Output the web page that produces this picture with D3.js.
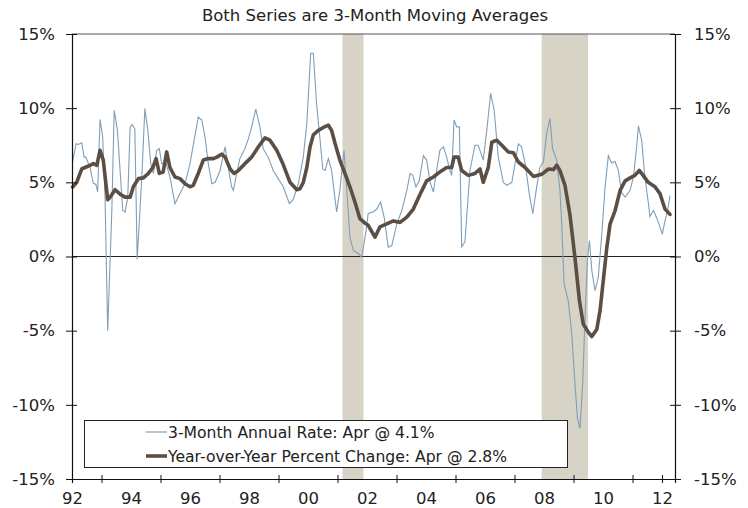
<!DOCTYPE html>
<html>
<head>
<meta charset="utf-8">
<script src="https://cdn.jsdelivr.net/npm/d3@7"></script>
<style>
  html, body { margin: 0; padding: 0; background: #fff; }
  svg { display: block; font-family: "DejaVu Sans", Verdana, sans-serif; }
</style>
</head>
<body>
<svg id="chart"></svg>
<script>
// 3-month annual rate (thin blue), decimal years
var rateYears = [1992.02,1992.14,1992.21,1992.33,1992.41,1992.47,1992.61,1992.72,1992.81,1992.87,1992.95,1993.04,1993.12,1993.21,1993.35,1993.43,1993.54,1993.63,1993.72,1993.80,1993.89,1993.97,1994.04,1994.13,1994.21,1994.36,1994.47,1994.57,1994.67,1994.76,1994.87,1994.96,1995.04,1995.19,1995.32,1995.49,1995.66,1995.83,1996.00,1996.14,1996.28,1996.40,1996.51,1996.62,1996.74,1996.85,1997.02,1997.19,1997.30,1997.41,1997.47,1997.56,1997.69,1997.86,1997.98,1998.09,1998.23,1998.37,1998.48,1998.65,1998.82,1998.99,1999.16,1999.37,1999.50,1999.67,1999.84,1999.96,2000.09,2000.18,2000.29,2000.41,2000.50,2000.58,2000.69,2000.80,2000.97,2001.08,2001.22,2001.31,2001.42,2001.54,2001.71,2001.82,2001.97,2002.04,2002.21,2002.33,2002.46,2002.58,2002.72,2002.84,2003.01,2003.18,2003.35,2003.46,2003.55,2003.66,2003.77,2003.91,2004.02,2004.14,2004.25,2004.36,2004.47,2004.59,2004.70,2004.81,2004.87,2004.95,2005.04,2005.13,2005.21,2005.32,2005.49,2005.66,2005.77,2005.94,2006.06,2006.19,2006.31,2006.45,2006.62,2006.74,2006.91,2007.13,2007.24,2007.36,2007.50,2007.62,2007.75,2007.86,2007.98,2008.09,2008.20,2008.29,2008.43,2008.54,2008.60,2008.68,2008.82,2008.94,2009.05,2009.13,2009.22,2009.31,2009.39,2009.47,2009.54,2009.62,2009.73,2009.84,2009.96,2010.07,2010.18,2010.29,2010.41,2010.52,2010.63,2010.75,2010.92,2011.03,2011.14,2011.20,2011.31,2011.42,2011.54,2011.59,2011.71,2011.82,2011.93,2012.01,2012.10,2012.18,2012.27];
var rateValues = [6.4,7.6,7.55,7.66,6.7,6.7,6.0,4.95,4.86,4.35,9.24,8.06,4.0,-5.0,3.1,9.86,8.5,5.8,3.1,3.0,4.0,8.7,8.9,8.6,-0.2,5.1,9.97,8.5,6.26,5.6,7.16,7.27,6.26,6.26,5.36,3.56,4.24,4.9,6.26,7.84,9.4,9.2,8.06,6.26,4.9,5.0,5.8,7.4,6.0,4.7,4.46,5.36,6.6,7.27,7.95,8.74,9.93,8.74,7.27,6.7,5.8,5.25,4.7,3.56,3.85,4.9,6.7,8.97,13.7,13.7,10.3,7.84,5.9,5.8,6.6,5.8,3.0,4.46,7.16,4.68,1.3,0.4,0.2,-0.05,1.76,2.9,3.0,3.2,3.67,2.66,0.63,0.74,2.2,3.1,4.46,5.6,5.47,4.68,5.1,6.8,6.5,5.0,4.35,5.8,7.16,7.4,6.7,5.8,5.47,9.2,8.74,8.74,0.65,1.0,5.8,7.5,7.5,6.5,8.5,11.0,9.86,6.7,5.0,4.8,5.0,7.6,7.4,6.26,4.24,2.9,4.68,6.0,6.37,8.3,9.3,7.27,6.5,4.46,2.2,-1.85,-2.97,-5.2,-8.6,-10.85,-11.6,-8.6,-4.1,-0.27,1.08,-0.95,-2.3,-1.4,1.53,4.7,6.8,6.3,6.4,5.8,4.3,4.0,4.46,5.36,7.4,8.8,7.84,5.36,3.56,2.7,3.1,2.6,2.0,1.5,2.4,3.0,4.1];

// year-over-year percent change (thick brown)
var yoyYears = [1992.02,1992.16,1992.33,1992.44,1992.61,1992.72,1992.84,1992.95,1993.06,1993.21,1993.29,1993.46,1993.63,1993.80,1993.97,1994.08,1994.25,1994.42,1994.59,1994.74,1994.85,1994.96,1995.09,1995.21,1995.32,1995.49,1995.66,1995.83,1996.00,1996.11,1996.28,1996.45,1996.62,1996.79,1996.91,1997.07,1997.19,1997.36,1997.49,1997.64,1997.86,1998.09,1998.32,1998.54,1998.71,1998.94,1999.16,1999.39,1999.62,1999.73,1999.84,1999.96,2000.07,2000.18,2000.35,2000.52,2000.69,2000.80,2000.92,2001.08,2001.25,2001.42,2001.59,2001.76,2001.93,2002.04,2002.27,2002.44,2002.67,2002.89,2003.12,2003.35,2003.57,2003.80,2004.02,2004.25,2004.47,2004.70,2004.87,2004.95,2005.09,2005.21,2005.43,2005.66,2005.83,2005.94,2006.11,2006.23,2006.40,2006.57,2006.79,2006.96,2007.13,2007.36,2007.64,2007.92,2008.15,2008.32,2008.43,2008.54,2008.71,2008.88,2009.05,2009.20,2009.33,2009.50,2009.62,2009.79,2009.90,2010.01,2010.13,2010.24,2010.41,2010.58,2010.75,2010.92,2011.08,2011.23,2011.36,2011.53,2011.76,2011.93,2012.10,2012.27];
var yoyValues = [4.68,5.0,5.9,6.0,6.15,6.26,6.15,7.16,6.5,3.83,4.0,4.5,4.2,4.0,4.0,4.7,5.25,5.3,5.6,6.0,6.6,5.6,5.7,7.05,6.0,5.36,5.25,4.9,4.7,4.8,5.6,6.5,6.6,6.6,6.7,6.9,6.7,5.9,5.6,5.8,6.26,6.7,7.4,8.0,7.84,7.16,6.2,5.0,4.5,4.57,5.0,6.0,7.4,8.2,8.5,8.7,8.85,8.5,7.6,6.5,5.6,4.7,3.67,2.55,2.25,2.1,1.3,2.0,2.2,2.4,2.3,2.65,3.2,4.2,5.1,5.36,5.7,6.0,6.0,6.7,6.7,5.8,5.47,5.6,5.9,5.0,6.0,7.7,7.84,7.5,7.05,7.0,6.37,6.0,5.4,5.54,5.9,5.86,6.15,5.8,4.8,2.8,-0.1,-2.97,-4.55,-5.1,-5.4,-4.9,-3.65,-1.6,0.63,2.2,3.1,4.46,5.1,5.3,5.47,5.8,5.47,5.0,4.7,4.24,3.2,2.84];

// recessions (start, end) in decimal years
var recessionStart = [2001.17, 2007.92];
var recessionEnd = [2001.88, 2009.49];

var yTicks = [-15, -10, -5, 0, 5, 10, 15];
var xTickYears = [1993, 1995, 1997, 1999, 2001, 2003, 2005, 2007, 2009, 2011, 2012];
var xLabelYears = [1992, 1994, 1996, 1998, 2000, 2002, 2004, 2006, 2008, 2010, 2012];

var legendLabels = ["3-Month Annual Rate: Apr @ 4.1%", "Year-over-Year Percent Change: Apr @ 2.8%"];
var title = "Both Series are 3-Month Moving Averages";

var width = 748, height = 508;
var margin = {top: 34, right: 73, bottom: 29, left: 72};

var blue = "#7f9fb8", brown = "#5b4f45", band = "#d7d3c7";

var svg = d3.select("#chart").attr("width", width).attr("height", height);

var x = d3.scaleLinear().domain([1992, 2012.44]).range([margin.left, width - margin.right]);
var y = d3.scaleLinear().domain([-15, 15]).range([height - margin.bottom, margin.top]);

// recession bands
svg.selectAll("rect.rec")
  .data(recessionStart)
  .enter()
  .append("rect")
  .attr("class", "rec")
  .attr("x", function(d){ return x(d) })
  .attr("width", function(d, i){ return x(recessionEnd[i]) - x(d) })
  .attr("y", y(15))
  .attr("height", y(-15) - y(15))
  .attr("fill", band)

// top border and zero line
svg.append("line")
  .attr("x1", x.range()[0]).attr("x2", x.range()[1])
  .attr("y1", y(15)).attr("y2", y(15))
  .attr("stroke", "#555").attr("stroke-width", 1.2)
svg.append("line")
  .attr("x1", x.range()[0]).attr("x2", x.range()[1])
  .attr("y1", y(0)).attr("y2", y(0))
  .attr("stroke", "#222").attr("stroke-width", 1)

var line = d3.line()
  .x(function(d){ return x(d[0]) })
  .y(function(d){ return y(d[1]) })

svg.append("path")
  .datum(d3.zip(rateYears, rateValues))
  .attr("d", line)
  .attr("fill", "none")
  .attr("stroke", blue)
  .attr("stroke-width", 1.1)

svg.append("path")
  .datum(d3.zip(yoyYears, yoyValues))
  .attr("d", line)
  .attr("fill", "none")
  .attr("stroke", brown)
  .attr("stroke-width", 3.6)
  .attr("stroke-linejoin", "round")
  .attr("stroke-linecap", "round")

// legend
var lg = svg.append("g")
lg.append("rect")
  .attr("x", 84.5).attr("y", 420.5)
  .attr("width", 483).attr("height", 47)
  .attr("fill", "#fff").attr("stroke", "#222").attr("stroke-width", 1)

var legendColors = [blue, brown], legendWidths = [1.8, 3.6]
legendLabels.forEach(function(label, i){
  var ly = 432 + i * 24
  lg.append("line")
    .attr("x1", 146).attr("x2", 167)
    .attr("y1", ly).attr("y2", ly)
    .attr("stroke", i == 0 ? "#a9c2d6" : legendColors[i])
    .attr("stroke-width", legendWidths[i])
  lg.append("text")
    .attr("x", 168).attr("y", ly + 5.5)
    .attr("font-size", 15.6).attr("fill", "#222")
    .text(label)
})

// axes
var leftAxis = svg.append("g")
  .attr("transform", "translate(" + margin.left + ",0)")
  .call(d3.axisLeft(y).tickValues(yTicks).tickSize(6).tickPadding(11)
    .tickFormat(function(d){ return d + "%" }))
var rightAxis = svg.append("g")
  .attr("transform", "translate(" + (width - margin.right) + ",0)")
  .call(d3.axisRight(y).tickValues(yTicks).tickSize(6).tickPadding(13)
    .tickFormat(function(d){ return d + "%" }))
leftAxis.selectAll(".tick line").attr("x1", 5)
rightAxis.selectAll(".tick line").attr("x1", -5)

var bottomAxis = svg.append("g")
  .attr("transform", "translate(0," + y(-15) + ")")
  .call(d3.axisBottom(x).tickValues(xTickYears).tickSize(4).tickFormat(""))
bottomAxis.selectAll(".tick line").attr("y1", -4)

svg.append("g")
  .attr("transform", "translate(0," + y(-15) + ")")
  .call(d3.axisBottom(x).tickValues(xLabelYears).tickSize(0).tickPadding(13)
    .tickFormat(function(d){ return d3.format("02")(d % 100) }))
  .call(function(g){ g.select(".domain").remove() })

svg.selectAll(".domain").attr("stroke", "#111").attr("stroke-width", 1.2)
svg.selectAll(".tick line").attr("stroke", "#111")
svg.selectAll(".tick text").attr("font-size", 16.5).attr("fill", "#222")
  .attr("font-family", "DejaVu Sans, Verdana, sans-serif")

svg.append("text")
  .attr("x", 375).attr("y", 21)
  .attr("text-anchor", "middle")
  .attr("font-size", 16.5).attr("fill", "#222")
  .text(title)
</script>
</body>
</html>
